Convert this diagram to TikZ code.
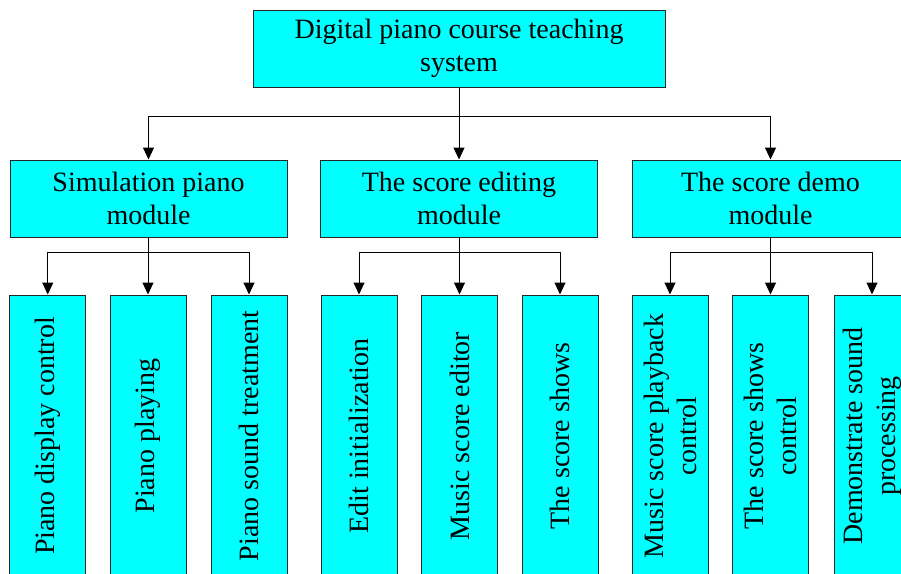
\documentclass[tikz,border=0pt]{standalone}
\usepackage{fontspec}
\setmainfont{Liberation Serif}
\usetikzlibrary{arrows.meta}
\definecolor{boxfill}{RGB}{0,255,255}

\begin{document}
\begin{tikzpicture}[x=1pt, y=-1pt,
  box/.style={draw=black!85, fill=boxfill, line width=1pt, inner sep=0pt,
              align=center, font=\fontsize{28}{33}\selectfont},
  topbox/.style={box, minimum width=412pt, minimum height=77pt},
  modbox/.style={box, minimum width=277pt, minimum height=77pt},
  % leaf boxes are turned so the text reads bottom to top
  leafbox/.style={box, rotate=90, minimum width=282pt, minimum height=76pt},
  link/.style={line width=1pt, black},
  arr/.style={link, -{Triangle[width=11pt,length=12pt]}}]

\useasboundingbox (0,0) rectangle (901,573);

% root
\node[topbox] (sys) at (459,48.5) {Digital piano course teaching\\system};

% modules
\node[modbox] (m1) at (148.5,198.5) {Simulation piano\\module};
\node[modbox] (m2) at (459,198.5)   {The score editing\\module};
\node[modbox] (m3) at (770.5,198.5) {The score demo\\module};

% functions
\node[leafbox] (a1) at (47.75,436) {Piano display control};
\node[leafbox] (a2) at (148,436)   {Piano playing};
\node[leafbox] (a3) at (249,436)   {Piano sound treatment};

\node[leafbox] (b1) at (359,436)   {Edit initialization};
\node[leafbox] (b2) at (459.5,436) {Music score editor};
\node[leafbox] (b3) at (560,436)   {The score shows};

\node[leafbox] (c1) at (670,436)   {Music score playback\\control};
\node[leafbox] (c2) at (770.5,436) {The score shows\\control};
\node[leafbox] (c3) at (872,436)   {Demonstrate sound\\processing};

% branch points
\coordinate (j0) at (459,116);
\coordinate (j1) at (148.5,252);
\coordinate (j2) at (459,252);
\coordinate (j3) at (770.5,252);

% root to modules
\draw[link] (sys.south) -- (j0);
\foreach \m in {m1,m2,m3} \draw[arr] (j0) -| (\m.north);

% modules to functions
\draw[link] (m1.south) -- (j1);
\draw[link] (m2.south) -- (j2);
\draw[link] (m3.south) -- (j3);
\foreach \l in {a1,a2,a3} \draw[arr] (j1) -| (\l);
\foreach \l in {b1,b2,b3} \draw[arr] (j2) -| (\l);
\foreach \l in {c1,c2,c3} \draw[arr] (j3) -| (\l);

\end{tikzpicture}
\end{document}
